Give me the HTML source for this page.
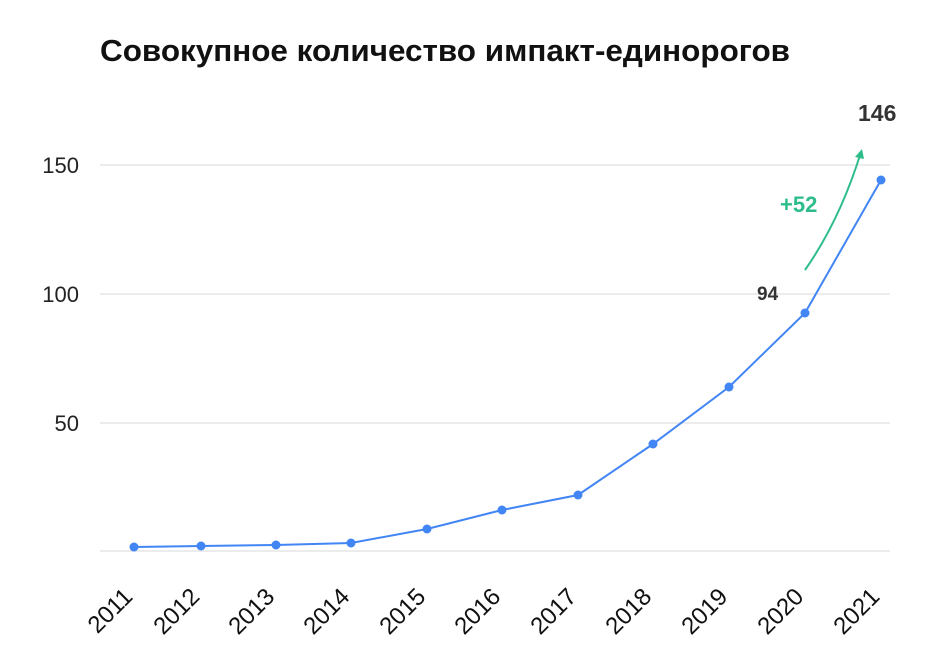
<!DOCTYPE html>
<html><head><meta charset="utf-8"><style>
body{margin:0;background:#fff;}
svg{display:block;font-family:"Liberation Sans","DejaVu Sans",sans-serif;}
</style></head><body>
<svg width="932" height="659" viewBox="0 0 932 659">
<text x="100" y="61" font-size="31" font-weight="bold" fill="#111" textLength="690" lengthAdjust="spacingAndGlyphs">Совокупное количество импакт-единорогов</text>
<g stroke="#e6e6e6" stroke-width="1.5">
<line x1="100" y1="165" x2="890" y2="165"/>
<line x1="100" y1="294" x2="890" y2="294"/>
<line x1="100" y1="423" x2="890" y2="423"/>
<line x1="100" y1="551" x2="890" y2="551"/>
</g>
<g font-size="22" fill="#222" text-anchor="end">
<text x="79" y="173">150</text>
<text x="79" y="302">100</text>
<text x="79" y="431">50</text>
</g>
<polyline fill="none" stroke="#4285f4" stroke-width="2" points="134,547 201,546 276,545 351,543 427,529 502,510 578,495 653,444 729,387 805,313 881,180"/>
<g fill="#4285f4">
<circle cx="134" cy="547" r="4.5"/><circle cx="201" cy="546" r="4.5"/><circle cx="276" cy="545" r="4.5"/><circle cx="351" cy="543" r="4.5"/><circle cx="427" cy="529" r="4.5"/><circle cx="502" cy="510" r="4.5"/><circle cx="578" cy="495" r="4.5"/><circle cx="653" cy="444" r="4.5"/><circle cx="729" cy="387" r="4.5"/><circle cx="805" cy="313" r="4.5"/><circle cx="881" cy="180" r="4.5"/>
</g>
<g font-size="24" fill="#111" text-anchor="end">
<text transform="translate(134,598) rotate(-45)">2011</text>
<text transform="translate(201,598) rotate(-45)">2012</text>
<text transform="translate(276,598) rotate(-45)">2013</text>
<text transform="translate(351,598) rotate(-45)">2014</text>
<text transform="translate(427,598) rotate(-45)">2015</text>
<text transform="translate(502,598) rotate(-45)">2016</text>
<text transform="translate(578,598) rotate(-45)">2017</text>
<text transform="translate(653,598) rotate(-45)">2018</text>
<text transform="translate(729,598) rotate(-45)">2019</text>
<text transform="translate(805,598) rotate(-45)">2020</text>
<text transform="translate(881,598) rotate(-45)">2021</text>
</g>
<path d="M805,270 Q840,220 861,152" fill="none" stroke="#2dbd8a" stroke-width="2"/>
<path d="M855,157 L862,149 L864,159 Z" fill="#2dbd8a"/>
<text x="780" y="212" font-size="22" font-weight="bold" fill="#2dbd8a">+52</text>
<text x="757" y="300" font-size="19" font-weight="bold" fill="#333">94</text>
<text x="858" y="121" font-size="23" font-weight="bold" fill="#333">146</text>
</svg>
</body></html>
